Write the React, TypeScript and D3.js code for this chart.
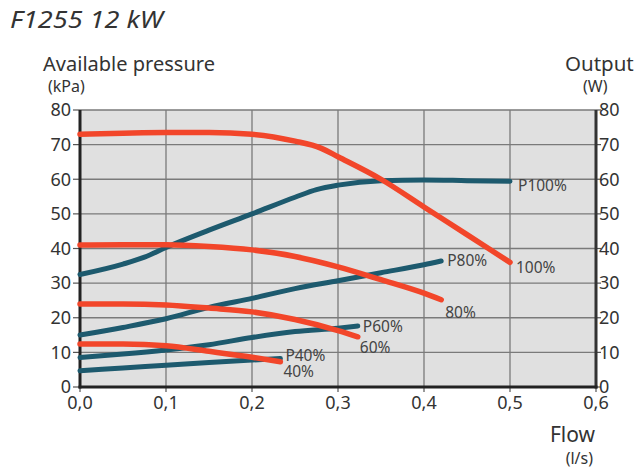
import React from "react";
import * as d3 from "d3";

const xTicks = [0, 0.1, 0.2, 0.3, 0.4, 0.5, 0.6];
const yTicks = [0, 10, 20, 30, 40, 50, 60, 70, 80];

const p100: [number, number][] = [[0, 32.5], [0.05, 35.5], [0.075, 37.5], [0.1, 40.3], [0.15, 45.3], [0.2, 50], [0.25, 54.8], [0.275, 57], [0.3, 58.3], [0.35, 59.6], [0.4, 59.8], [0.45, 59.6], [0.5, 59.4]];
const p80: [number, number][] = [[0, 15], [0.05, 17.2], [0.1, 19.7], [0.15, 23], [0.2, 25.6], [0.25, 28.4], [0.3, 30.7], [0.35, 33], [0.4, 35.3], [0.42, 36.4]];
const p60: [number, number][] = [[0, 8.5], [0.05, 9.5], [0.1, 10.7], [0.15, 12.2], [0.2, 14.3], [0.25, 16], [0.3, 17], [0.323, 17.6]];
const p40: [number, number][] = [[0, 4.7], [0.05, 5.5], [0.1, 6.3], [0.15, 7.1], [0.2, 7.8], [0.233, 8.2]];

const r100: [number, number][] = [[0, 73], [0.05, 73.3], [0.1, 73.5], [0.15, 73.5], [0.2, 73], [0.25, 71], [0.28, 69], [0.3, 66.5], [0.35, 60], [0.4, 52], [0.45, 44], [0.5, 36]];
const r80: [number, number][] = [[0, 41], [0.05, 41.1], [0.1, 41.1], [0.15, 40.6], [0.2, 39.6], [0.25, 37.7], [0.3, 34.7], [0.35, 31], [0.4, 27.1], [0.42, 25.2]];
const r60: [number, number][] = [[0, 24], [0.05, 24], [0.1, 23.7], [0.15, 22.8], [0.2, 21.7], [0.25, 19.5], [0.3, 16.3], [0.323, 14.5]];
const r40: [number, number][] = [[0, 12.4], [0.05, 12.4], [0.1, 11.9], [0.15, 10.3], [0.2, 8.6], [0.233, 7.3]];

const pumpSeries = [
  { name: "P100%", data: p100 },
  { name: "P80%", data: p80 },
  { name: "P60%", data: p60 },
  { name: "P40%", data: p40 },
];
const pressureSeries = [
  { name: "100%", data: r100 },
  { name: "80%", data: r80 },
  { name: "60%", data: r60 },
  { name: "40%", data: r40 },
];

const BLUE = "#1d5a6e";
const RED = "#f2462a";
const FONT = "'Noto Sans', 'DejaVu Sans', sans-serif";
const TXT = "#333";

export default function App() {
  const W = 644, H = 469;
  const x = d3.scaleLinear().domain([0, 0.6]).range([80, 596]);
  const y = d3.scaleLinear().domain([0, 80]).range([387, 110]);
  const line = d3.line<[number, number]>().x(d => x(d[0])).y(d => y(d[1])).curve(d3.curveMonotoneX);
  const fmt = (v: number) => v.toFixed(1).replace(".", ",");

  const labelPos: Record<string, [number, number]> = {
    "P100%": [8, 4],
    "P80%": [6, 0],
    "P60%": [5, 1],
    "P40%": [5, -3],
    "100%": [6, 5],
    "80%": [4, 13],
    "60%": [2, 11],
    "40%": [3, 10],
  };

  const renderLabel = (name: string, data: [number, number][]) => {
    const last = data[data.length - 1];
    const [dx, dy] = labelPos[name];
    return (
      <text key={"l" + name} x={x(last[0]) + dx} y={y(last[1]) + dy} dy="0.35em"
        fontFamily={FONT} fontSize={15.5} fill="#444">{name}</text>
    );
  };

  return (
    <svg width={W} height={H} style={{ position: "absolute", left: 0, top: 0, background: "#fff" }}>
      <text x={10} y={28} fontFamily={FONT} fontStyle="italic" fontSize={24} textLength={153} lengthAdjust="spacingAndGlyphs" fill={TXT}>F1255 12 kW</text>
      <text x={43} y={71} fontFamily={FONT} fontSize={20.5} textLength={172} lengthAdjust="spacingAndGlyphs" fill={TXT}>Available pressure</text>
      <text x={48} y={92} fontFamily={FONT} fontSize={16} fill={TXT}>(kPa)</text>
      <text x={565} y={71} fontFamily={FONT} fontSize={20.5} fill={TXT}>Output</text>
      <text x={583} y={92} fontFamily={FONT} fontSize={16} fill={TXT}>(W)</text>
      <text x={595} y={442} textAnchor="end" fontFamily={FONT} fontSize={21} fill={TXT}>Flow</text>
      <text x={593} y={464} textAnchor="end" fontFamily={FONT} fontSize={16} fill={TXT}>(l/s)</text>

      <rect x={x(0)} y={y(80)} width={x(0.6) - x(0)} height={y(0) - y(80)} fill="#e0e0e0" />
      {xTicks.slice(1, -1).map(t => (
        <line key={"gx" + t} x1={x(t)} x2={x(t)} y1={y(80)} y2={y(0)} stroke="#7a7a7a" strokeWidth={1.3} />
      ))}
      {yTicks.slice(1).map(t => (
        <line key={"gy" + t} x1={x(0)} x2={x(0.6)} y1={y(t)} y2={y(t)} stroke="#7a7a7a" strokeWidth={1.3} />
      ))}

      {yTicks.map(t => (
        <g key={"yt" + t}>
          <line x1={x(0) - 7} x2={x(0)} y1={y(t)} y2={y(t)} stroke="#555" strokeWidth={1.2} />
          <line x1={x(0.6)} x2={x(0.6) + 5} y1={y(t)} y2={y(t)} stroke="#555" strokeWidth={1.2} />
          <text x={x(0) - 9} y={y(t)} dy="0.35em" textAnchor="end" fontFamily={FONT} fontSize={18} fill={TXT}>{t}</text>
          <text x={x(0.6) + 3} y={y(t)} dy="0.35em" fontFamily={FONT} fontSize={18} fill={TXT}>{t}</text>
        </g>
      ))}
      {xTicks.map(t => (
        <g key={"xt" + t}>
          <line x1={x(t)} x2={x(t)} y1={y(0)} y2={y(0) + 5} stroke="#555" strokeWidth={1.2} />
          <text x={x(t)} y={y(0) + 22} textAnchor="middle" fontFamily={FONT} fontSize={18} fill={TXT}>{fmt(t)}</text>
        </g>
      ))}

      <line x1={x(0)} x2={x(0)} y1={y(80)} y2={y(0) + 1.5} stroke="#222" strokeWidth={3} />
      <line x1={x(0.6)} x2={x(0.6)} y1={y(80)} y2={y(0) + 1.5} stroke="#333" strokeWidth={3} />
      <line x1={x(0) - 1.5} x2={x(0.6) + 1.5} y1={y(0)} y2={y(0)} stroke="#222" strokeWidth={3} />

      {pumpSeries.map(s => (
        <path key={s.name} d={line(s.data) || ""} fill="none" stroke={BLUE} strokeWidth={5} strokeLinecap="round" />
      ))}
      {pressureSeries.map(s => (
        <path key={s.name} d={line(s.data) || ""} fill="none" stroke={RED} strokeWidth={5.5} strokeLinecap="round" />
      ))}
      {pumpSeries.map(s => renderLabel(s.name, s.data))}
      {pressureSeries.map(s => renderLabel(s.name, s.data))}
    </svg>
  );
}
